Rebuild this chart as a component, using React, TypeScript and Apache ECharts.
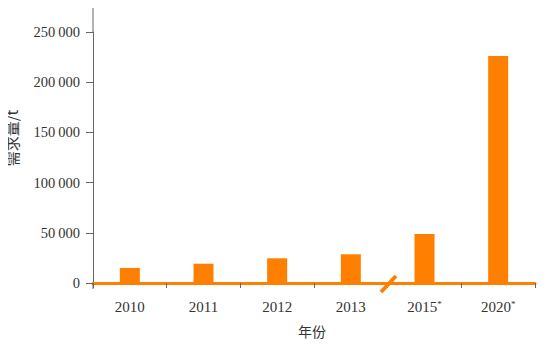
import React, { useEffect, useRef } from "react";
import * as echarts from "echarts";

const categories = ["2010", "2011", "2012", "2013", "2015*", "2020*"];
const demand = [15000, 19200, 24600, 28600, 48800, 226000];
const yTicks = [0, 50000, 100000, 150000, 200000, 250000];

const fmt = (v: number) => {
  if (v === 0) return "0";
  const s = String(v);
  return s.slice(0, s.length - 3) + "\u2009" + s.slice(s.length - 3);
};

export default function App() {
  const ref = useRef<HTMLDivElement>(null);
  useEffect(() => {
    const chart = echarts.init(ref.current!, null, { renderer: "svg" });
    const serif = "Liberation Serif";
    chart.setOption({
      animation: false,
      grid: { left: 93, right: 25, top: 32, bottom: 64 },
      xAxis: {
        type: "category",
        data: categories,
        boundaryGap: true,
        axisLine: { lineStyle: { color: "#FF8000", width: 3 } },
        axisTick: { show: true, length: 5, lineStyle: { color: "#666" }, interval: 0 },
        axisLabel: {
          margin: 16,
          interval: 0,
          formatter: (v: string) =>
            v.endsWith("*") ? "{n|" + v.slice(0, -1) + "}{s|*}" : "{n|" + v + "}",
          rich: {
            n: { fontFamily: serif, fontSize: 15, color: "#333" },
            s: { fontFamily: serif, fontSize: 9, color: "#333", padding: [0, 0, 7, 0] },
          },
        },
      },
      yAxis: {
        type: "value",
        min: yTicks[0],
        max: yTicks[yTicks.length - 1],
        interval: 50000,
        axisLine: { show: true, lineStyle: { color: "#666", width: 1 } },
        axisTick: { show: true, length: 7, lineStyle: { color: "#666" } },
        splitLine: { show: false },
        axisLabel: {
          margin: 13,
          fontFamily: serif,
          fontSize: 14.5,
          color: "#333",
          formatter: (v: number) => fmt(v),
        },
      },
      series: [
        {
          type: "bar",
          data: demand,
          barWidth: 20,
          itemStyle: { color: "#FF8000" },
        },
      ],
      graphic: [
        { type: "line", shape: { x1: 93, y1: 5, x2: 93, y2: 32 }, style: { stroke: "#666", lineWidth: 1 } },
        { type: "line", shape: { x1: 93, y1: 283, x2: 93, y2: 289 }, style: { stroke: "#666", lineWidth: 1 }, z: 10 },
        {
          type: "line",
          shape: { x1: 381, y1: 292, x2: 396, y2: 276 },
          style: { stroke: "#FF8000", lineWidth: 4 },
          z: 10,
        },
        {
          type: "text",
          x: 11,
          y: 138,
          rotation: Math.PI / 2,
          style: {
            text: "需求量/t",
            fontFamily: "Noto Sans CJK SC",
            fontSize: 15,
            fill: "#333",
            align: "center",
            verticalAlign: "middle",
          },
        },
        {
          type: "text",
          x: 312,
          y: 331,
          style: {
            text: "年份",
            fontFamily: "Noto Sans CJK SC",
            fontSize: 14,
            fill: "#333",
            align: "center",
            verticalAlign: "middle",
          },
        },
      ],
    });
    return () => chart.dispose();
  }, []);
  return <div ref={ref} style={{ width: 560, height: 347, margin: -8 }} />;
}
